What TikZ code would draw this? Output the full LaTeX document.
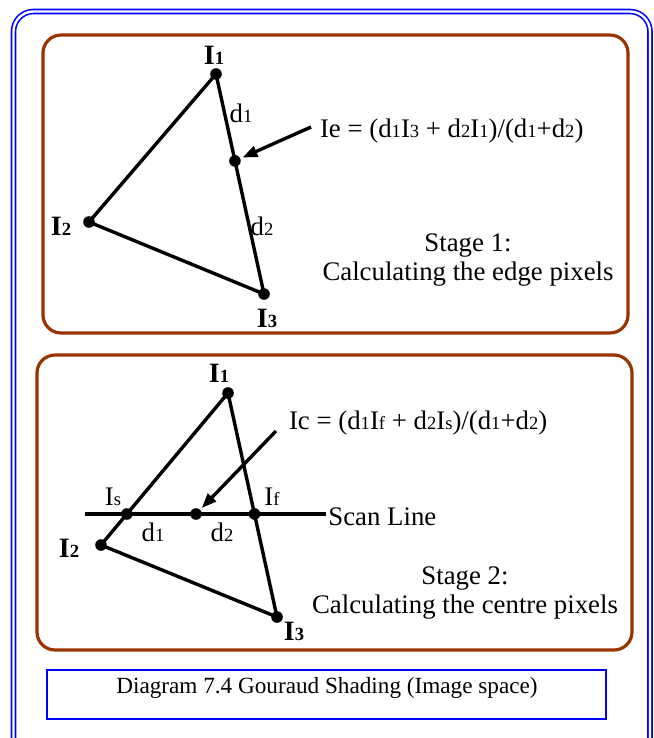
\documentclass[tikz,border=0pt]{standalone}
\usepackage{fontspec}
\setmainfont{Liberation Serif}
\usetikzlibrary{arrows.meta,positioning,calc}
\definecolor{frameblue}{RGB}{0,0,255}
\definecolor{boxbrown}{RGB}{153,51,0}
\newcommand{\lo}[1]{{\fontsize{9.3}{10}\selectfont #1}}

\begin{document}
\begin{tikzpicture}[x=0.5pt,y=-0.5pt,
  stagebox/.style={draw=boxbrown, line width=1.6pt, rounded corners=9pt},
  edge/.style={line width=1.7pt},
  pt/.style={circle, fill, inner sep=0pt, minimum size=5.8pt},
  vlabel/.style={font=\fontsize{14}{16}\selectfont\bfseries, inner sep=1pt},
  dlabel/.style={font=\fontsize{13.4}{15}\selectfont, inner sep=1pt},
  ptr/.style={-{Triangle[length=7.5pt,width=5.5pt]}, line width=1.7pt, shorten >=1pt},
  txt/.style={font=\fontsize{13.4}{14.5}\selectfont, align=center}
]
  \useasboundingbox (0,0) rectangle (653,738);
  \begin{scope}
    \clip (0,0) rectangle (653,738);
    \draw[frameblue, line width=0.8pt, double=white, double distance=1.2pt, rounded corners=10pt] (13.5,11.5) rectangle (650,760);
  \end{scope}

  % stage 1
  \draw[stagebox] (43,35) rectangle (628,333);
  \node[pt] (a1) at (216,74) {};
  \node[pt] (a2) at (89,222) {};
  \node[pt] (a3) at (264,294) {};
  \node[pt] (ie) at ($(a1)!0.395!(a3)$) {};
  \draw[edge] (a1.center) -- (a2.center) -- (a3.center) -- cycle;
  \node[vlabel] (la1) at (214,55) {I\lo{1}};
  \node[vlabel] (la2) at (61,226) {I\lo{2}};
  \node[vlabel] (la3) at (267,318) {I\lo{3}};
  \node[dlabel] (da1) at (241,113) {d\lo{1}};
  \node[dlabel] (da2) at (262,226) {d\lo{2}};
  \node[txt, anchor=west] (fe) at (313,131) {Ie = (d\lo{1}I\lo{3} + d\lo{2}I\lo{1})/(d\lo{1}+d\lo{2})};
  \coordinate (ietail) at (311,127);
  \draw[ptr] (ietail) -- (ie);
  \node[txt] (s1) at (468,260) {Stage 1:\\Calculating the edge pixels};

  % stage 2
  \draw[stagebox] (37,355) rectangle (632,650);
  \node[pt] (b1) at (228,393) {};
  \node[pt] (b2) at (101,545) {};
  \node[pt] (b3) at (277,617) {};
  \node[pt] (is) at ($(b1)!0.796!(b2)$) {};
  \node[pt] (if) at ($(b1)!0.540!(b3)$) {};
  \node[pt] (ic) at (196,514) {};
  \draw[edge] (b1.center) -- (b2.center) -- (b3.center) -- cycle;
  \coordinate (scanstart) at (85,514);
  \node[txt, anchor=west, inner sep=1pt] (scan) at (326,517) {Scan Line};
  \draw[edge] (scanstart) -- (scanstart -| scan.west);
  \node[vlabel] (lb1) at (219,373) {I\lo{1}};
  \node[vlabel] (lb2) at (69,548) {I\lo{2}};
  \node[vlabel] (lb3) at (294,631) {I\lo{3}};
  \node[dlabel] (lis) at (113,497) {I\lo{s}};
  \node[dlabel] (lif) at (272,497) {I\lo{f}};
  \node[dlabel] (db1) at (153,532) {d\lo{1}};
  \node[dlabel] (db2) at (222,532) {d\lo{2}};
  \node[txt, anchor=west] (fc) at (282,423) {Ic = (d\lo{1}I\lo{f} + d\lo{2}I\lo{s})/(d\lo{1}+d\lo{2})};
  \coordinate (ictail) at (276,431);
  \draw[ptr] (ictail) -- (ic);
  \node[txt] (s2) at (465,593) {Stage 2:\\Calculating the centre pixels};

  % caption
  \node[draw=frameblue, line width=1.2pt, minimum width=279.5pt, minimum height=24.5pt] (cap) at (326.5,694.5) {};
  \node[font=\fontsize{11.6}{13}\selectfont] (captxt) at (327,688) {Diagram 7.4 Gouraud Shading (Image space)};
\end{tikzpicture}
\end{document}
